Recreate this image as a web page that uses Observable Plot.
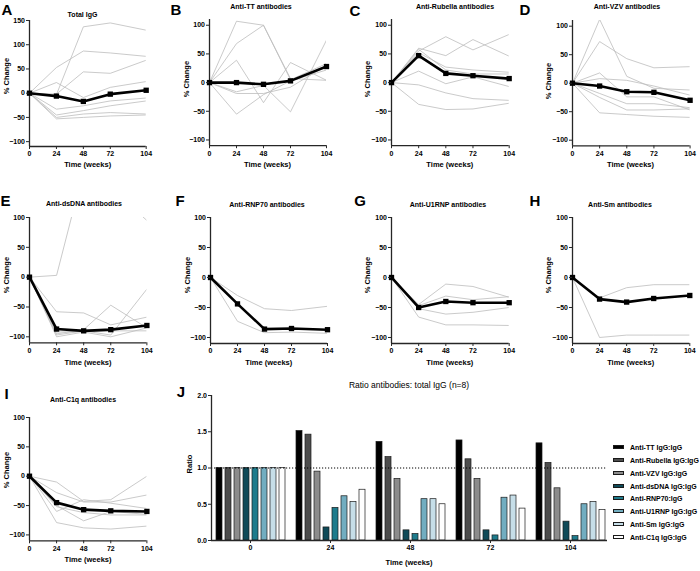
<!DOCTYPE html>
<html><head><meta charset="utf-8">
<script src="https://cdn.jsdelivr.net/npm/d3@7"></script>
<script src="https://cdn.jsdelivr.net/npm/@observablehq/plot@0.6"></script>
<style>
body{margin:0;background:#fff;}
#fig{position:relative;width:700px;height:571px;font-family:"Liberation Sans",Arial,sans-serif;overflow:hidden;background:#fff;color:#000;}
#fig svg{position:absolute;}
.t{position:absolute;white-space:nowrap;line-height:1;transform:translate(-50%,-50%);}
.letter{font-size:15px;font-weight:bold;}
.title{font-size:7px;font-weight:bold;}
.alab{font-size:7.5px;font-weight:bold;}
.jtitle{font-size:8.5px;}
.leg{position:absolute;white-space:nowrap;line-height:1;font-size:7px;font-weight:bold;transform:translateY(-50%);}
.sw{position:absolute;box-sizing:border-box;border:0.7px solid #1a1a1a;}
</style></head>
<body><div id="fig"></div>
<script>
// ---------- data ----------
const weeks = [0, 24, 48, 72, 104];

const totalIgGMean = [0, -6, -17, -2, 6];
const totalIgGSubjects = [
  [0, -3, 137, 145, 130],
  [0, 53, 87, 83, 76],
  [0, -2, 44, 41, 68],
  [0, 22, -9, 12, 24],
  [0, -33, -26, -16, -10],
  [0, -45, -36, -26, -16],
  [0, -50, -43, -40, -43],
  [0, -53, -50, -47, -45]
];
const ttMean = [0, 0, -3, 3, 28];
const ttSubjects = [
  [0, 107, 100, 7, 4],
  [0, 68, 100, 5, 33],
  [0, 39, -35, 35, 4],
  [0, -16, -5, -51, 74],
  [0, -19, -19, -8, 30],
  [0, -55, -21, 3, 22]
];
const rubellaMean = [0, 47, 16, 12, 7];
const rubellaSubjects = [
  [0, 55, 80, 57, 84],
  [0, 60, 47, 75, 46],
  [0, 52, 27, 22, 18],
  [0, 58, 22, 15, 15],
  [0, 20, -2, 10, -7],
  [0, -4, -18, -28, -31],
  [0, -38, -47, -46, -36]
];
const vzvMean = [0, -5, -15, -16, -30];
const vzvSubjects = [
  [0, 112, 12, -9, -12],
  [0, 73, 43, 27, 29],
  [0, 18, -24, -24, -47],
  [0, 8, 5, -5, -21],
  [0, -18, -36, -36, -43],
  [0, -25, -47, -47, -45],
  [0, -52, -55, -58, -60]
];
const dsDNAMean = [0, -87, -90, -88, -81];
const dsDNASubjects = [
  [0, 3, 180, 150, 95],
  [0, -58, -60, -80, -67],
  [0, -95, -88, -47, -85],
  [0, -97, -90, -97, -20],
  [0, -100, -92, -100, -85],
  [0, -92, -91, -90, -90]
];
const rnp70Mean = [0, -44, -86, -85, -87];
const rnp70Subjects = [
  [0, -30, -52, -55, -48],
  [0, -73, -92, -91, -93]
];
const u1rnpMean = [0, -50, -40, -42, -42];
const u1rnpSubjects = [
  [0, -45, -11, -15, -33],
  [0, -47, -31, -37, -32],
  [0, -52, -61, -58, -50],
  [0, -66, -79, -79, -80]
];
const smMean = [0, -36, -41, -35, -30];
const smSubjects = [
  [0, -34, -17, -12, -12],
  [0, -100, -96, -96, -96]
];
const c1qMean = [0, -45, -57, -59, -60];
const c1qSubjects = [
  [0, -10, -43, -40, 0],
  [0, -28, -44, -44, -32],
  [0, -60, -40, -46, -55],
  [0, -50, -76, -60, -65],
  [0, -52, -62, -66, -66],
  [0, -79, -88, -90, -85]
];

// panel J
const ratioWeeks = ["0", "24", "48", "72", "104"];
const ratioNames = ["Anti-TT IgG:IgG", "Anti-Rubella IgG:IgG", "Anti-VZV IgG:IgG", "Anti-dsDNA IgG:IgG",
  "Anti-RNP70:IgG", "Anti-U1RNP IgG:IgG", "Anti-Sm IgG:IgG", "Anti-C1q IgG:IgG"];
const ratioColors = ["#000000", "#4d4d4d", "#8c8c8c", "#0f4a58", "#1e7b8c", "#72adc0", "#c6dee8", "#ffffff"];
const ttRatio = [1, 1.51, 1.36, 1.38, 1.34];
const rubellaRatio = [1, 1.46, 1.15, 1.12, 1.07];
const vzvRatio = [1, 0.95, 0.85, 0.85, 0.72];
const dsDNARatio = [1, 0.18, 0.14, 0.14, 0.26];
const rnp70Ratio = [1, 0.45, 0.09, 0.07, 0.06];
const u1rnpRatio = [1, 0.61, 0.57, 0.59, 0.50];
const smRatio = [1, 0.53, 0.57, 0.62, 0.53];
const c1qRatio = [1, 0.70, 0.50, 0.44, 0.42];
const ratioSeries = [ttRatio, rubellaRatio, vzvRatio, dsDNARatio, rnp70Ratio, u1rnpRatio, smRatio, c1qRatio];

// ---------- layout ----------
const fig = document.getElementById("fig");
const FONT = '"Liberation Sans", Arial, sans-serif';
function addText(txt, cx, cy, cls, rot) {
  const d = document.createElement("div");
  d.className = "t " + cls;
  d.textContent = txt;
  d.style.left = cx + "px";
  d.style.top = cy + "px";
  if (rot) d.style.transform = "translate(-50%,-50%) rotate(-90deg)";
  fig.appendChild(d);
}

const panels = [
  {letter: "A", lx: 7, ly: 9, title: "Total IgG", tx: 82.5, ty: 14, mean: totalIgGMean, subjects: totalIgGSubjects,
   axisX: 29.3, xEnd: 146, yTop: 20, yBot: 146, yDomain: [-110, 150], yTicks: [-100, -50, 0, 50, 100, 150], ylx: 7.3, yly: 76, xly: 165},
  {letter: "B", lx: 176, ly: 9, title: "Anti-TT antibodies", tx: 261, ty: 5.5, mean: ttMean, subjects: ttSubjects,
   axisX: 209, xEnd: 326, yTop: 19.2, yBot: 145.4, yDomain: [-110, 110], yTicks: [-100, -50, 0, 50, 100], ylx: 186.7, yly: 79, xly: 165},
  {letter: "C", lx: 355, ly: 10, title: "Anti-Rubella antibodies", tx: 455, ty: 5.5, mean: rubellaMean, subjects: rubellaSubjects,
   axisX: 391, xEnd: 508.7, yTop: 19.2, yBot: 145.4, yDomain: [-110, 110], yTicks: [-100, -50, 0, 50, 100], ylx: 368.3, yly: 79, xly: 165},
  {letter: "D", lx: 525, ly: 9, title: "Anti-VZV antibodies", tx: 627, ty: 5.5, mean: vzvMean, subjects: vzvSubjects,
   axisX: 571.7, xEnd: 689.3, yTop: 20.3, yBot: 145.7, yDomain: [-110, 110], yTicks: [-100, -50, 0, 50, 100], ylx: 549.3, yly: 81, xly: 165},
  {letter: "E", lx: 5.5, ly: 200, title: "Anti-dsDNA antibodies", tx: 84, ty: 203, mean: dsDNAMean, subjects: dsDNASubjects,
   axisX: 29.3, xEnd: 146.7, yTop: 217, yBot: 342.3, yDomain: [-110, 100], yTicks: [-100, -50, 0, 50, 100], ylx: 7.3, yly: 275, xly: 363},
  {letter: "F", lx: 180, ly: 200, title: "Anti-RNP70 antibodies", tx: 267, ty: 204, mean: rnp70Mean, subjects: rnp70Subjects,
   axisX: 210.3, xEnd: 327.3, yTop: 216.7, yBot: 342.7, yDomain: [-110, 100], yTicks: [-100, -50, 0, 50, 100], ylx: 188.3, yly: 275, xly: 363},
  {letter: "G", lx: 360, ly: 200, title: "Anti-U1RNP antibodies", tx: 448, ty: 204, mean: u1rnpMean, subjects: u1rnpSubjects,
   axisX: 391, xEnd: 508.7, yTop: 216.7, yBot: 342.7, yDomain: [-110, 100], yTicks: [-100, -50, 0, 50, 100], ylx: 368.3, yly: 275, xly: 363},
  {letter: "H", lx: 535, ly: 200, title: "Anti-Sm antibodies", tx: 620, ty: 204, mean: smMean, subjects: smSubjects,
   axisX: 572, xEnd: 689.3, yTop: 216.7, yBot: 342.7, yDomain: [-110, 100], yTicks: [-100, -50, 0, 50, 100], ylx: 549.3, yly: 275, xly: 363},
  {letter: "I", lx: 6.5, ly: 392.5, title: "Anti-C1q antibodies", tx: 83, ty: 399, mean: c1qMean, subjects: c1qSubjects,
   axisX: 29.3, xEnd: 146.7, yTop: 416.7, yBot: 540, yDomain: [-110, 100], yTicks: [-100, -50, 0, 50, 100], ylx: 7.3, yly: 470, xly: 560}
];

function linePanel(p) {
  const mL = 30, mR = 14, mT = 4, mB = 22;
  const width = mL + (p.xEnd - p.axisX) + mR;
  const height = mT + (p.yBot - p.yTop) + mB;
  const rows = p.subjects.flatMap((s, i) => s.map((v, j) => ({week: weeks[j], value: v, id: i})));
  const meanRows = p.mean.map((v, j) => ({week: weeks[j], value: v}));
  const chart = Plot.plot({
    width, height, marginLeft: mL, marginRight: mR, marginTop: mT, marginBottom: mB,
    style: {fontFamily: FONT, fontSize: "7px", fontWeight: "bold", background: "transparent", overflow: "visible", color: "#000"},
    x: {domain: [0, 104], axis: null},
    y: {domain: p.yDomain, axis: null},
    marks: [
      Plot.line(rows, {x: "week", y: "value", z: "id", stroke: "#bcbcbc", strokeWidth: 0.8, clip: true}),
      Plot.ruleX([0], {y1: p.yDomain[0], y2: p.yDomain[1], stroke: "#262626", strokeWidth: 1.3}),
      Plot.ruleY([p.yDomain[0]], {stroke: "#262626", strokeWidth: 1.3}),
      Plot.line(meanRows, {x: "week", y: "value", stroke: "#000", strokeWidth: 2.6}),
      Plot.dot(meanRows, {x: "week", y: "value", symbol: "square", fill: "#000", r: 3}),
      Plot.axisX({ticks: weeks, tickSize: 3, tickPadding: 2, label: null, stroke: "#262626"}),
      Plot.axisY({ticks: p.yTicks, tickSize: 3, tickPadding: 1.5, label: null, stroke: "#262626"})
    ]
  });
  chart.style.left = (p.axisX - mL) + "px";
  chart.style.top = (p.yTop - mT) + "px";
  fig.appendChild(chart);
  addText(p.letter, p.lx, p.ly, "letter");
  addText(p.title, p.tx, p.ty, "title");
  addText("% Change", p.ylx, p.yly, "alab", true);
  addText("Time (weeks)", (p.axisX + p.xEnd) / 2, p.xly, "alab");
}
panels.forEach(linePanel);

// ---------- panel J ----------
const jLeft = 170, jTop = 385, jW = 440, jH = 180, jML = 41, jMT = 10, jMB = 25;
const ratioRows = ratioNames.flatMap((ab, i) => ratioSeries[i].map((v, j) => ({ab, week: ratioWeeks[j], ratio: v})));
const bars = Plot.plot({
  width: jW, height: jH, marginLeft: jML, marginRight: 0, marginTop: jMT, marginBottom: jMB,
  style: {fontFamily: FONT, fontSize: "7px", fontWeight: "bold", background: "transparent", overflow: "visible", color: "#000"},
  fx: {domain: ratioWeeks, paddingInner: 0.047, paddingOuter: 0, axis: null, label: null},
  x: {domain: ratioNames, paddingInner: 0.38, paddingOuter: 0.325, axis: null},
  y: {domain: [0, 2], axis: null},
  color: {domain: ratioNames, range: ratioColors},
  marks: [
    Plot.barY(ratioRows, {fx: "week", x: "ab", y: "ratio", fill: "ab", stroke: "#1a1a1a", strokeWidth: 0.7}),
    Plot.axisFx({anchor: "bottom", tickSize: 3, tickPadding: 2, label: null, stroke: "#262626"})
  ]
});
bars.style.left = jLeft + "px";
bars.style.top = jTop + "px";
fig.appendChild(bars);

const jAxes = Plot.plot({
  width: jW, height: jH, marginLeft: jML, marginRight: 3, marginTop: jMT, marginBottom: jMB,
  style: {fontFamily: FONT, fontSize: "7px", fontWeight: "bold", background: "transparent", overflow: "visible", color: "#000"},
  x: {domain: [0, 1], axis: null},
  y: {domain: [0, 2], axis: null},
  marks: [
    Plot.ruleY([1], {stroke: "#000", strokeWidth: 1, strokeDasharray: "1.2,1.8"}),
    Plot.ruleX([0], {y1: 0, y2: 2, stroke: "#262626", strokeWidth: 1.3}),
    Plot.ruleY([0], {stroke: "#262626", strokeWidth: 1.3}),
    Plot.axisY({ticks: [0, 0.5, 1, 1.5, 2], tickFormat: d3.format(".1f"), tickSize: 3, tickPadding: 1.5, label: null, stroke: "#262626"})
  ]
});
jAxes.style.left = jLeft + "px";
jAxes.style.top = jTop + "px";
fig.appendChild(jAxes);

addText("J", 181, 391, "letter");
addText("Ratio antibodies: total IgG (n=8)", 409, 385, "jtitle");
addText("Ratio", 190, 464, "alab", true);
addText("Time (weeks)", 409, 563, "alab");

// legend
const legY0 = 447.3, legStep = 12.77;
ratioNames.forEach((name, i) => {
  const y = legY0 + i * legStep;
  const sw = document.createElement("div");
  sw.className = "sw";
  sw.style.left = "612.7px";
  sw.style.top = (y - 2) + "px";
  sw.style.width = "11px";
  sw.style.height = "4px";
  sw.style.background = ratioColors[i];
  fig.appendChild(sw);
  const lab = document.createElement("div");
  lab.className = "leg";
  lab.textContent = name;
  lab.style.left = "630px";
  lab.style.top = y + "px";
  fig.appendChild(lab);
});
</script>
</body></html>
